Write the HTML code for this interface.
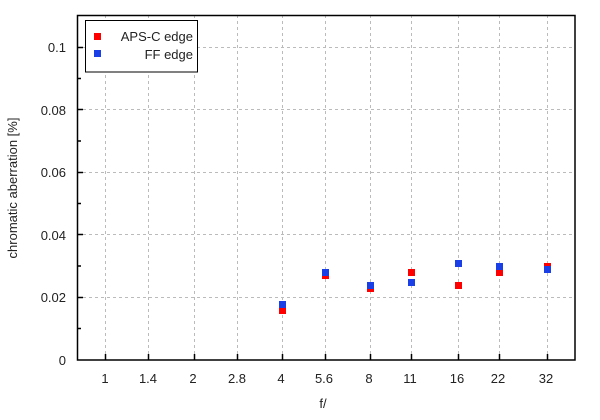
<!DOCTYPE html>
<html><head><style>body{margin:0;background:#fff}</style></head><body>
<svg width="600" height="415" xmlns="http://www.w3.org/2000/svg" font-family="Liberation Sans, sans-serif" font-size="13" fill="#222">
<rect width="600" height="415" fill="#fff"/>
<g stroke="#bbb" stroke-dasharray="3,3" stroke-width="1">
<line x1="77" x2="575" y1="297.5" y2="297.5"/><line x1="77" x2="575" y1="234.5" y2="234.5"/><line x1="77" x2="575" y1="172.5" y2="172.5"/><line x1="77" x2="575" y1="109.5" y2="109.5"/><line x1="77" x2="575" y1="47.5" y2="47.5"/>
<line x1="105.5" x2="105.5" y1="15" y2="360"/><line x1="148.5" x2="148.5" y1="15" y2="360"/><line x1="194.5" x2="194.5" y1="15" y2="360"/><line x1="237.5" x2="237.5" y1="15" y2="360"/><line x1="282.5" x2="282.5" y1="15" y2="360"/><line x1="325.5" x2="325.5" y1="15" y2="360"/><line x1="370.5" x2="370.5" y1="15" y2="360"/><line x1="411.5" x2="411.5" y1="15" y2="360"/><line x1="458.5" x2="458.5" y1="15" y2="360"/><line x1="499.5" x2="499.5" y1="15" y2="360"/><line x1="547.5" x2="547.5" y1="15" y2="360"/>
</g>
<rect x="77.5" y="15.5" width="497.5" height="344.5" fill="none" stroke="#000" stroke-width="1.5"/>
<g stroke="#000" stroke-width="1.5">
<line x1="77" x2="83" y1="297.5" y2="297.5"/><line x1="77" x2="83" y1="234.5" y2="234.5"/><line x1="77" x2="83" y1="172.5" y2="172.5"/><line x1="77" x2="83" y1="109.5" y2="109.5"/><line x1="77" x2="83" y1="47.5" y2="47.5"/>
<line x1="77" x2="81" y1="328.5" y2="328.5"/><line x1="77" x2="81" y1="266" y2="266"/><line x1="77" x2="81" y1="203.5" y2="203.5"/><line x1="77" x2="81" y1="141" y2="141"/><line x1="77" x2="81" y1="78.5" y2="78.5"/>
<line x1="105.5" x2="105.5" y1="354" y2="360"/><line x1="148.5" x2="148.5" y1="354" y2="360"/><line x1="194.5" x2="194.5" y1="354" y2="360"/><line x1="237.5" x2="237.5" y1="354" y2="360"/><line x1="282.5" x2="282.5" y1="354" y2="360"/><line x1="325.5" x2="325.5" y1="354" y2="360"/><line x1="370.5" x2="370.5" y1="354" y2="360"/><line x1="411.5" x2="411.5" y1="354" y2="360"/><line x1="458.5" x2="458.5" y1="354" y2="360"/><line x1="499.5" x2="499.5" y1="354" y2="360"/><line x1="547.5" x2="547.5" y1="354" y2="360"/>
</g>
<g text-anchor="end">
<text x="66" y="365">0</text><text x="66" y="302">0.02</text><text x="66" y="240">0.04</text><text x="66" y="177">0.06</text><text x="66" y="115">0.08</text><text x="66" y="52">0.1</text>
</g>
<g text-anchor="middle">
<text x="105" y="383">1</text><text x="148" y="383">1.4</text><text x="193" y="383">2</text><text x="237" y="383">2.8</text><text x="281" y="383">4</text><text x="324" y="383">5.6</text><text x="369" y="383">8</text><text x="410" y="383">11</text><text x="457" y="383">16</text><text x="498" y="383">22</text><text x="546" y="383">32</text>
<text x="323" y="408">f/</text>
<text transform="translate(17,188) rotate(-90)">chromatic aberration [%]</text>
</g>
<g fill="#ff0000">
<rect x="279" y="307" width="7" height="7"/><rect x="322" y="272" width="7" height="7"/><rect x="367" y="285" width="7" height="7"/><rect x="408" y="269" width="7" height="7"/><rect x="455" y="282" width="7" height="7"/><rect x="496" y="269" width="7" height="7"/><rect x="544" y="263" width="7" height="7"/>
</g>
<g fill="#1a3fe6">
<rect x="279" y="301" width="7" height="7"/><rect x="322" y="269" width="7" height="7"/><rect x="367" y="282" width="7" height="7"/><rect x="408" y="279" width="7" height="7"/><rect x="455" y="260" width="7" height="7"/><rect x="496" y="263" width="7" height="7"/><rect x="544" y="266" width="7" height="7"/>
</g>
<rect x="85.5" y="20.5" width="112" height="51.5" fill="#fff" stroke="#000" stroke-width="1"/>
<rect x="94" y="33" width="7" height="7" fill="#ff0000"/>
<rect x="94" y="50" width="7" height="7" fill="#1a3fe6"/>
<g text-anchor="end"><text x="193" y="41">APS-C edge</text><text x="193" y="59">FF edge</text></g>
</svg>
</body></html>
